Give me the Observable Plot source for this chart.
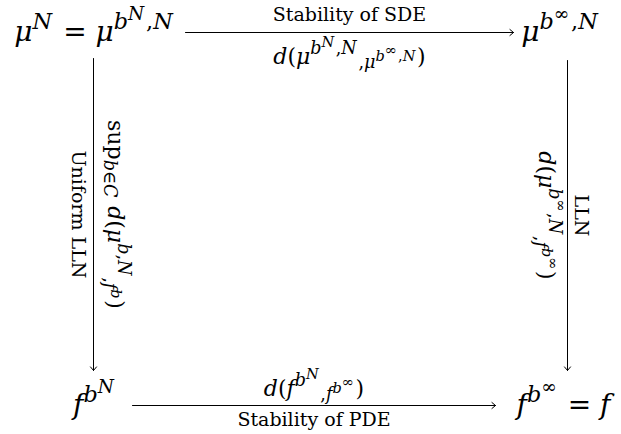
<!DOCTYPE html>
<html><head><meta charset="utf-8">
<script src="https://cdn.jsdelivr.net/npm/d3@7"></script>
<script src="https://cdn.jsdelivr.net/npm/@observablehq/plot@0.6"></script>
<style>
html,body{margin:0;padding:0;background:#fff;}
#chart svg{display:block;}
</style></head><body><div id="chart"></div>
<script>
// ---- data (diagram content) ----
const nodeLabels = ["$μ^{N} = μ^{b^{N},N}", "$μ^{b^{∞},N}", "$f^{b^{N}}", "$f^{b^{∞}} = f"];
const nodeCols = [0, 1, 0, 1];
const nodeRows = [0, 0, 1, 1];
const edgeFrom = [0, 0, 1, 2];
const edgeTo   = [1, 2, 3, 3];
// label on the default side (above / right of a downward arrow)
const edgeLabelA = ["Stability of SDE", "$\\r{sup}_{b∈C} d(μ^{b,N}_{,f^{b}})", "LLN", "$d(f^{b^{N}}_{,f^{b^{∞}}})"];
// label on the swapped side (below / left of a downward arrow)
const edgeLabelB = ["$d(μ^{b^{N},N}_{,μ^{b^{∞},N}})", "Uniform LLN", "$d(μ^{b^{∞},N}_{,f^{b^{∞}}})", "Stability of PDE"];

// ---- layout / style ----
const FONT = "'DejaVu Serif', 'Liberation Serif', serif";
const NODE_SIZE = 28, LABEL_SIZE = 19, MATH_LABEL_SIZE = 22;
const LEVEL_SCALE = [1, 0.8, 0.66, 0.66];
const SCRIPT_SPACE = 0.08; // em of parent after a script group
const colRange = [93, 567], rowRange = [32, 405];
const nodeNudge = [0, -8, 0, -4];
const edgeStyle = [
  {insetStart: 92, insetEnd: 54, rotate: 0,  offA: [0, -18], offB: [0, 24]},
  {insetStart: 26, insetEnd: 35, rotate: 90, offA: [22, 0],  offB: [-15, 0]},
  {insetStart: 28, insetEnd: 35, rotate: 90, offA: [14, 0],  offB: [-21, 0]},
  {insetStart: 39, insetEnd: 72, rotate: 0,  offA: [0, -17], offB: [0, 14]}
];

const nodes = nodeLabels.map((label, i) => ({label, col: nodeCols[i], row: nodeRows[i]}));
const edges = edgeFrom.map((f, i) => ({from: nodes[f], to: nodes[edgeTo[i]], a: edgeLabelA[i], b: edgeLabelB[i]}));

const marks = [];
edges.forEach((e, i) => {
  const st = edgeStyle[i];
  marks.push(Plot.arrow([e], {
    x1: d => d.from.col, y1: d => d.from.row, x2: d => d.to.col, y2: d => d.to.row,
    insetStart: st.insetStart, insetEnd: st.insetEnd,
    stroke: "#000", strokeWidth: 1, headLength: 7, headAngle: 80
  }));
  const along = (st.insetStart - st.insetEnd) / 2;
  const horiz = st.rotate === 0;
  [["a", st.offA], ["b", st.offB]].forEach(([k, off]) => {
    marks.push(Plot.text([e], {
      x: d => (d.from.col + d.to.col) / 2,
      y: d => (d.from.row + d.to.row) / 2,
      text: k, rotate: st.rotate,
      dx: off[0] + (horiz ? along : 0), dy: off[1] + (horiz ? 0 : along),
      fontSize: e[k].startsWith("$") ? MATH_LABEL_SIZE : LABEL_SIZE,
      fill: "#000", fontFamily: FONT
    }));
  });
});
nodes.forEach((n, i) => {
  marks.push(Plot.text([n], {x: "col", y: "row", text: "label", dx: nodeNudge[i], fontSize: NODE_SIZE, fill: "#000", fontFamily: FONT}));
});

const chart = Plot.plot({
  width: 621, height: 434, margin: 0,
  x: {domain: [0, 1], range: colRange, axis: null},
  y: {domain: [0, 1], range: rowRange, axis: null},
  style: {fontFamily: FONT, background: "#fff", color: "#000"},
  marks
});
document.getElementById("chart").appendChild(chart);

// ---- tiny TeX-like markup -> tspans ----
function parseMath(s) {
  let i = 0;
  function group() {
    const out = [];
    while (i < s.length && s[i] !== "}") {
      const c = s[i];
      if (c === "^" || c === "_") {
        i++;
        let inner;
        if (s[i] === "{") { i++; inner = group(); i++; }
        else { inner = [{t: "chr", c: s[i]}]; i++; }
        out.push({t: c === "^" ? "sup" : "sub", kids: inner});
      } else if (c === "\\") {
        i += 3; // skip \r{
        const start = i;
        while (i < s.length && s[i] !== "}") i++;
        out.push({t: "rm", text: s.slice(start, i)});
        i++;
      } else { out.push({t: "chr", c}); i++; }
    }
    return out;
  }
  return group();
}
function flatten(tree, base, level, shift, runs) {
  const size = base * LEVEL_SCALE[Math.min(level, 3)];
  let gap = 0;
  const push = r => { r.dx = gap; gap = 0; runs.push(r); };
  for (const n of tree) {
    if (n.t === "chr") push({text: n.c, size, shift, italic: /[A-Za-zμ]/.test(n.c)});
    else if (n.t === "rm") push({text: n.text, size, shift, italic: false});
    else {
      const start = runs.length;
      const sh = n.t === "sup" ? shift + size * (level === 0 ? 0.45 : 0.4) : shift - size * 0.2;
      flatten(n.kids, base, level + 1, sh, runs);
      if (runs[start]) runs[start].dx = (runs[start].dx || 0) + gap;
      gap = size * SCRIPT_SPACE;
    }
  }
  return runs;
}
const NS = "http://www.w3.org/2000/svg";
chart.querySelectorAll("text").forEach(t => {
  const raw = t.textContent;
  if (!raw.startsWith("$")) return;
  const fs = parseFloat(getComputedStyle(t).fontSize) || LABEL_SIZE;
  const runs = flatten(parseMath(raw.slice(1)), fs, 0, 0, []);
  const merged = [];
  for (const r of runs) {
    const last = merged[merged.length - 1];
    if (last && !r.dx && last.size === r.size && last.shift === r.shift && last.italic === r.italic) last.text += r.text;
    else merged.push({...r});
  }
  while (t.firstChild) t.removeChild(t.firstChild);
  let cur = 0;
  for (const r of merged) {
    const sp = document.createElementNS(NS, "tspan");
    sp.textContent = r.text;
    sp.setAttribute("font-size", r.size.toFixed(2));
    if (r.italic) sp.setAttribute("font-style", "italic");
    if (r.dx) sp.setAttribute("dx", r.dx.toFixed(2));
    if (r.shift !== cur) { sp.setAttribute("dy", (-(r.shift - cur)).toFixed(2)); cur = r.shift; }
    t.appendChild(sp);
  }
});
</script>
</body></html>
